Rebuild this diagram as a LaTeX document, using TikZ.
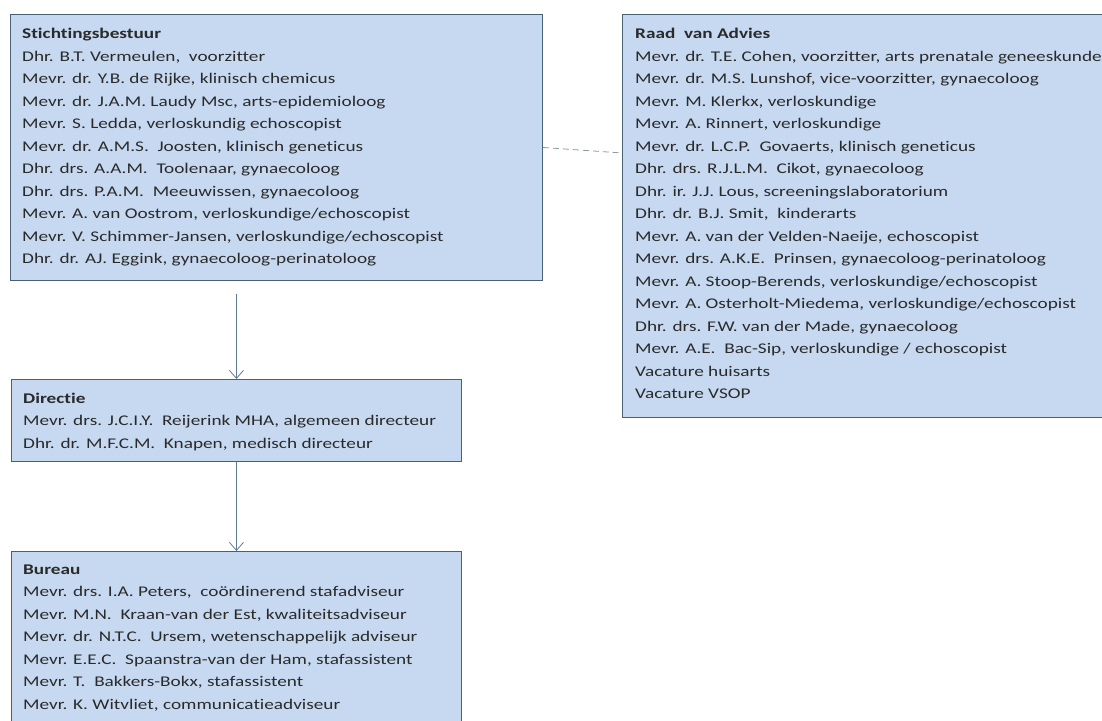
\documentclass[tikz,border=0pt]{standalone}
\usepackage{fontspec}
\setmainfont{Carlito}[FakeStretch=1.3,Ligatures=NoCommon]
\usetikzlibrary{arrows.meta,calc}
\definecolor{boxfill}{HTML}{C6D9F1}
\definecolor{boxline}{HTML}{4A6076}
\definecolor{arrowcol}{HTML}{5F7C99}
\definecolor{dashcol}{HTML}{8A99A8}
\definecolor{txt}{HTML}{2A2A2A}
\begin{document}
\begin{tikzpicture}[x=1pt,y=-1pt,
  orgbox/.style={draw=boxline,fill=boxfill,line width=0.9pt,inner sep=0pt,anchor=north west},
  orgtext/.style={anchor=base west,inner sep=0pt,align=left,text=txt,font=\fontsize{14.8}{22.5}\selectfont},
  flow/.style={draw=arrowcol,line width=0.8pt,-{Straight Barb[length=8pt,width=14pt,line width=0.8pt]}},
  assoc/.style={draw=dashcol,line width=0.8pt,dash pattern=on 6pt off 4pt}]
\useasboundingbox (0,0) rectangle (1102,720);
\fill[white] (0,0) rectangle (1102,720);
\clip (0,0) rectangle (1102,720);

\node[orgbox,minimum width=532pt,minimum height=266pt] (sb) at (10,14) {};
\node[orgbox,minimum width=490pt,minimum height=403pt] (rva) at (622,14) {};
\node[orgbox,minimum width=450pt,minimum height=82pt] (dir) at (11,379) {};
\node[orgbox,minimum width=450pt,minimum height=180pt] (bur) at (11,551) {};

% base anchor of a multi-line node = baseline of its last line
\node[orgtext] (sbt) at (22,263.5) {\textbf{Stichtingsbestuur}\\
Dhr. B.T. Vermeulen,\ \ voorzitter\\
Mevr. dr. Y.B. de Rijke, klinisch chemicus\\
Mevr. dr. J.A.M. Laudy Msc, arts-epidemioloog\\
Mevr. S. Ledda, verloskundig echoscopist\\
Mevr. dr. A.M.S.\ \ Joosten, klinisch geneticus\\
Dhr. drs. A.A.M.\ \ Toolenaar, gynaecoloog\\
Dhr. drs. P.A.M.\ \ Meeuwissen, gynaecoloog\\
Mevr. A. van Oostrom, verloskundige/echoscopist\\
Mevr. V. Schimmer-Jansen, verloskundige/echoscopist\\
Dhr. dr. AJ. Eggink, gynaecoloog-perinatoloog};

\node[orgtext] (rvat) at (635,398.5) {\textbf{Raad\ \ van Advies}\\
Mevr. dr. T.E.\ Cohen, voorzitter, arts prenatale geneeskunde\\
Mevr. dr. M.S. Lunshof, vice-voorzitter, gynaecoloog\\
Mevr. M. Klerkx, verloskundige\\
Mevr. A. Rinnert, verloskundige\\
Mevr. dr. L.C.P.\ \ Govaerts, klinisch geneticus\\
Dhr. drs. R.J.L.M.\ \ Cikot, gynaecoloog\\
Dhr. ir. J.J. Lous, screeningslaboratorium\\
Dhr. dr. B.J. Smit,\ \ kinderarts\\
Mevr. A. van der Velden-Naeije, echoscopist\\
Mevr. drs. A.K.E.\ \ Prinsen, gynaecoloog-perinatoloog\\
Mevr. A. Stoop-Berends, verloskundige/echoscopist\\
Mevr. A. Osterholt-Miedema, verloskundige/echoscopist\\
Dhr. drs. F.W. van der Made, gynaecoloog\\
Mevr. A.E.\ \ Bac-Sip, verloskundige / echoscopist\\
Vacature huisarts\\
Vacature VSOP};

\node[orgtext] (dirt) at (23,448) {\textbf{Directie}\\
Mevr. drs. J.C.I.Y.\ \ Reijerink MHA, algemeen directeur\\
Dhr. dr. M.F.C.M.\ \ Knapen, medisch directeur};

\node[orgtext] (burt) at (23,709) {\textbf{Bureau}\\
Mevr. drs. I.A. Peters,\ \ coördinerend stafadviseur\\
Mevr. M.N.\ \ Kraan-van der Est, kwaliteitsadviseur\\
Mevr. dr. N.T.C.\ \ Ursem, wetenschappelijk adviseur\\
Mevr. E.E.C.\ \ Spaanstra-van der Ham, stafassistent\\
Mevr. T.\ \ Bakkers-Bokx, stafassistent\\
Mevr. K. Witvliet, communicatieadviseur};

\draw[flow,shorten <=13pt] (dir.north |- sb.south) -- (dir.north);
\draw[flow] (dir.south) -- (bur.north);
\draw[assoc] (sb.east) -- ($(rva.north west)+(0,139)$);
\end{tikzpicture}
\end{document}
